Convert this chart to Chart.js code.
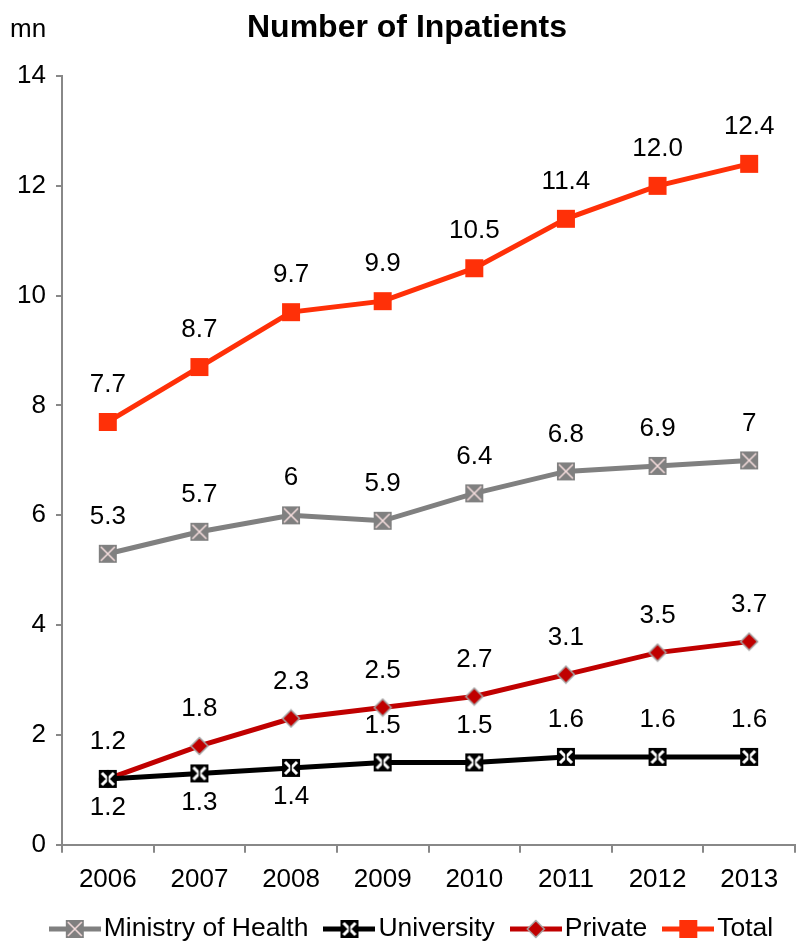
<!DOCTYPE html>
<html>
<head>
<meta charset="utf-8">
<script src="https://cdn.jsdelivr.net/npm/chart.js@4"></script>
<style>
  html, body { margin: 0; padding: 0; background: #fff; }
  #wrap { width: 798px; height: 944px; position: relative; }
</style>
</head>
<body>
<div id="wrap"><canvas id="inpatients"></canvas></div>
<script>
const years = ["2006", "2007", "2008", "2009", "2010", "2011", "2012", "2013"];
const ministry = [5.3, 5.7, 6, 5.9, 6.4, 6.8, 6.9, 7];
const university = [1.2, 1.3, 1.4, 1.5, 1.5, 1.6, 1.6, 1.6];
const privateSector = [1.2, 1.8, 2.3, 2.5, 2.7, 3.1, 3.5, 3.7];
const total = [7.7, 8.7, 9.7, 9.9, 10.5, 11.4, 12.0, 12.4];
const yTicks = [0, 2, 4, 6, 8, 10, 12, 14];

const FONT = "Liberation Sans, Arial, sans-serif";
const FS = 26;
Chart.defaults.font.family = FONT;
Chart.defaults.color = "#000";

function makeMarker(kind, w, h, withLine, lineColor) {
  const c = document.createElement("canvas");
  c.width = w; c.height = h;
  const ctx = c.getContext("2d");
  const cx = w / 2, cy = h / 2;
  if (withLine) {
    ctx.strokeStyle = lineColor;
    ctx.lineWidth = 5;
    ctx.beginPath(); ctx.moveTo(0, cy); ctx.lineTo(w, cy); ctx.stroke();
  }
  const s = 18;
  const x0 = cx - s / 2, y0 = cy - s / 2;
  if (kind === "moh") {
    ctx.fillStyle = "#808080";
    ctx.fillRect(x0, y0, s, s);
    ctx.strokeStyle = "#f6dede"; ctx.lineWidth = 1.5;
    ctx.beginPath();
    ctx.moveTo(x0 + 2, y0 + 2); ctx.lineTo(x0 + s - 2, y0 + s - 2);
    ctx.moveTo(x0 + s - 2, y0 + 2); ctx.lineTo(x0 + 2, y0 + s - 2);
    ctx.stroke();
  } else if (kind === "univ") {
    ctx.fillStyle = "#000";
    ctx.fillRect(x0, y0, s, s);
    ctx.strokeStyle = "#fff"; ctx.lineWidth = 3;
    ctx.beginPath();
    ctx.moveTo(x0 + 3, y0 + 3); ctx.lineTo(x0 + s - 3, y0 + s - 3);
    ctx.moveTo(x0 + s - 3, y0 + 3); ctx.lineTo(x0 + 3, y0 + s - 3);
    ctx.stroke();
    ctx.strokeStyle = "#000"; ctx.lineWidth = 1.5;
    ctx.beginPath(); ctx.moveTo(cx, y0 + 2); ctx.lineTo(cx, y0 + s - 2); ctx.stroke();
  } else if (kind === "priv") {
    const r = 8.5;
    ctx.fillStyle = "#c00000";
    ctx.strokeStyle = "#a6a6a6"; ctx.lineWidth = 1.5;
    ctx.beginPath();
    ctx.moveTo(cx, cy - r); ctx.lineTo(cx + r, cy); ctx.lineTo(cx, cy + r); ctx.lineTo(cx - r, cy);
    ctx.closePath(); ctx.fill(); ctx.stroke();
  } else {
    ctx.fillStyle = "#ff3008";
    ctx.fillRect(x0, y0, s, s);
  }
  return c;
}

const series = [
  { label: "Ministry of Health", data: ministry, color: "#808080", kind: "moh", fmt: v => String(v), above: () => true },
  { label: "University", data: university, color: "#000000", kind: "univ", fmt: v => String(v), above: i => i >= 3 },
  { label: "Private", data: privateSector, color: "#c00000", kind: "priv", fmt: v => String(v), above: () => true },
  { label: "Total", data: total, color: "#ff3008", kind: "total", fmt: v => v.toFixed(1), above: () => true }
];

const dataLabels = {
  id: "dataLabels",
  afterDatasetsDraw(chart) {
    const ctx = chart.ctx;
    ctx.save();
    ctx.font = FS + "px " + FONT;
    ctx.fillStyle = "#000";
    ctx.textAlign = "center";
    ctx.textBaseline = "middle";
    series.forEach((s, di) => {
      chart.getDatasetMeta(di).data.forEach((pt, i) => {
        const dy = s.above(i) ? -37 : 29;
        ctx.fillText(s.fmt(s.data[i]), pt.x, pt.y + dy);
      });
    });
    ctx.restore();
  }
};

// title, unit and legend text drawn around the plot
const decorations = {
  id: "decorations",
  afterDraw(chart) {
    const ctx = chart.ctx;
    ctx.save();
    ctx.fillStyle = "#000";
    ctx.textBaseline = "middle";
    ctx.font = FS + "px " + FONT;
    ctx.fillText("mn", 10, 30);
    ctx.font = "bold 32px " + FONT;
    ctx.textAlign = "center";
    ctx.fillText("Number of Inpatients", 407, 28);

    ctx.textAlign = "left";
    ctx.font = "26.5px " + FONT;
    const y = 929;
    const lineW = 52, gapText = 3, gapItem = 15;
    let total = 0;
    series.forEach(s => { total += lineW + gapText + ctx.measureText(s.label).width; });
    total += gapItem * (series.length - 1);
    let x = 411 - total / 2;
    series.forEach(s => {
      ctx.drawImage(makeMarker(s.kind, lineW, 22, true, s.color), x, y - 11);
      x += lineW + gapText;
      ctx.fillText(s.label, x, y);
      x += ctx.measureText(s.label).width + gapItem;
    });
    ctx.restore();
  }
};

new Chart(document.getElementById("inpatients"), {
  type: "line",
  data: {
    labels: years,
    datasets: series.map(s => ({
      label: s.label,
      data: s.data,
      borderColor: s.color,
      backgroundColor: s.color,
      borderWidth: 5,
      pointStyle: makeMarker(s.kind, 20, 20, false),
      tension: 0,
      fill: false,
      clip: false
    }))
  },
  options: {
    responsive: true,
    maintainAspectRatio: false,
    animation: false,
    layout: { autoPadding: false, padding: { left: 0, right: 3, top: 76, bottom: 38 } },
    plugins: {
      title: { display: false },
      legend: { display: false },
      tooltip: { enabled: false }
    },
    scales: {
      x: {
        offset: true,
        grid: { offset: true, drawOnChartArea: false, color: "#888", tickLength: 8, lineWidth: 2 },
        border: { color: "#888", width: 2 },
        ticks: { font: { size: FS, family: FONT }, color: "#000", padding: 11, maxRotation: 0 }
      },
      y: {
        min: 0,
        max: 14,
        afterBuildTicks(scale) { scale.ticks = yTicks.map(v => ({ value: v })); },
        afterFit(scale) { scale.width = 62; },
        grid: { drawOnChartArea: false, color: "#888", tickLength: 6, lineWidth: 2 },
        border: { color: "#888", width: 2 },
        ticks: { font: { size: FS, family: FONT }, color: "#000", padding: 10 }
      }
    }
  },
  plugins: [dataLabels, decorations]
});
</script>
</body>
</html>
